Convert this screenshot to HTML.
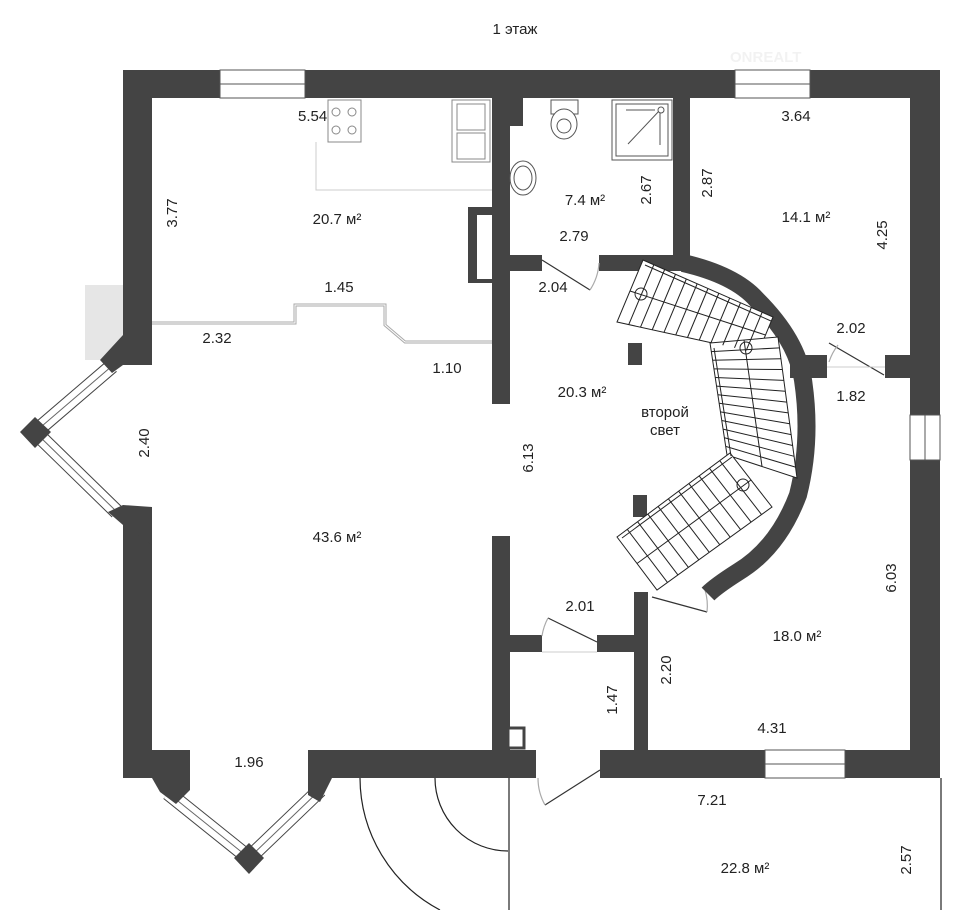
<!DOCTYPE html>
<html><head><meta charset="utf-8"><style>
html,body{margin:0;padding:0;background:#fff}
svg{display:block}
text{font-family:"Liberation Sans",sans-serif;fill:#222;font-size:15px}
</style></head><body>
<svg width="960" height="910" viewBox="0 0 960 910" xmlns="http://www.w3.org/2000/svg">
<text x="515" y="34" text-anchor="middle" font-size="17">1 этаж</text>
<g opacity="0.12"><text x="730" y="62" font-size="40" font-weight="bold" style="fill:#999">ONREALT</text><text x="740" y="82" font-size="12" style="fill:#999">НЕДВИЖИМОСТЬ</text></g>
<rect x="85" y="285" width="38" height="75" fill="#e6e6e6"/>
<!-- bay window frames -->
<g fill="none" stroke-linejoin="miter">
<polyline points="112,366 35,432 117,512" stroke="#444" stroke-width="15"/>
<polyline points="112,366 35,432 117,512" stroke="#fff" stroke-width="13"/>
<polyline points="112,366 35,432 117,512" stroke="#666" stroke-width="1"/>
<polyline points="168,793 249,858 320,790" stroke="#444" stroke-width="15"/>
<polyline points="168,793 249,858 320,790" stroke="#fff" stroke-width="13"/>
<polyline points="168,793 249,858 320,790" stroke="#666" stroke-width="1"/>
</g>
<g fill="#444">
<rect x="123" y="70" width="97" height="28"/><rect x="305" y="70" width="430" height="28"/><rect x="810" y="70" width="130" height="28"/>
<rect x="123" y="70" width="29" height="295"/><rect x="123" y="507" width="29" height="271"/>
<rect x="910" y="70" width="30" height="345"/><rect x="910" y="460" width="30" height="318"/>
<rect x="123" y="750" width="67" height="28"/><rect x="308" y="750" width="228" height="28"/><rect x="600" y="750" width="165" height="28"/><rect x="845" y="750" width="95" height="28"/>
<rect x="492" y="98" width="18" height="306"/><rect x="492" y="536" width="18" height="242"/>
<rect x="508" y="98" width="15" height="28"/>
<rect x="508" y="255" width="34" height="16"/><rect x="599" y="255" width="91" height="16"/><rect x="673" y="98" width="17" height="173"/>
<rect x="790" y="355" width="37" height="23"/><rect x="885" y="355" width="27" height="23"/>
<rect x="508" y="635" width="34" height="17"/><rect x="597" y="635" width="51" height="17"/><rect x="634" y="592" width="14" height="186"/>
<rect x="628" y="343" width="14" height="22"/><rect x="633" y="495" width="14" height="22"/>
<rect x="468" y="207" width="24" height="76"/>
<polygon points="123,335 152,335 152,365 123,365 112,373 100,360"/>
<polygon points="20,432 35,417 51,432 35,448"/>
<polygon points="123,505 152,507 152,545 123,525 108,512"/>
<polygon points="152,778 190,778 190,790 176,804 160,792"/>
<polygon points="308,778 332,778 320,802 308,795"/>
<polygon points="234,858 249,843 264,858 249,874"/>
</g>
<rect x="477" y="215" width="15" height="64" fill="#fff"/>
<rect x="508" y="728" width="16" height="20" fill="#fff" stroke="#444" stroke-width="3"/>
<g fill="#fff" stroke="#555" stroke-width="1">
<rect x="220" y="70" width="85" height="28"/><line x1="220" y1="84" x2="305" y2="84"/>
<rect x="735" y="70" width="75" height="28"/><line x1="735" y1="84" x2="810" y2="84"/>
<rect x="910" y="415" width="30" height="45"/><line x1="925" y1="415" x2="925" y2="460"/>
<rect x="765" y="750" width="80" height="28"/><line x1="765" y1="764" x2="845" y2="764"/>
</g>
<g stroke="#888" stroke-width="1" fill="#fff">
<rect x="328" y="100" width="33" height="42"/><circle cx="336" cy="112" r="4"/><circle cx="352" cy="112" r="4"/><circle cx="336" cy="130" r="4"/><circle cx="352" cy="130" r="4"/>
<rect x="452" y="100" width="38" height="62"/><rect x="457" y="104" width="28" height="26"/><rect x="457" y="133" width="28" height="26"/>
<polyline points="316,142 316,190 492,190" fill="none" stroke="#ccc"/>
</g>
<polyline points="152,323 295,323 295,305 385,305 385,325 405,342 492,342" fill="none" stroke="#aaa" stroke-width="3"/>
<polyline points="152,323 295,323 295,305 385,305 385,325 405,342 492,342" fill="none" stroke="#fff" stroke-width="1"/>
<g stroke="#555" stroke-width="1" fill="#fff">
<rect x="551" y="100" width="27" height="14"/><ellipse cx="564" cy="124" rx="13" ry="15"/><ellipse cx="564" cy="126" rx="7" ry="7"/>
<rect x="612" y="100" width="60" height="60"/><rect x="616" y="104" width="52" height="52"/>
<line x1="628" y1="144" x2="660" y2="110"/><line x1="660" y1="112" x2="660" y2="145"/><line x1="626" y1="110" x2="655" y2="110"/><circle cx="661" cy="110" r="3"/>
<ellipse cx="523" cy="178" rx="13" ry="17"/><ellipse cx="523" cy="178" rx="9" ry="12"/>
</g>
<g stroke="#333" stroke-width="1.2" fill="none">
<line x1="542" y1="260" x2="590" y2="290"/><path d="M599,263 A55,55 0 0 1 590,290" stroke="#aaa"/>
<line x1="829" y1="343" x2="884" y2="375"/><path d="M838,345 A55,55 0 0 0 829,362" stroke="#aaa"/>
<line x1="548" y1="618" x2="597" y2="642"/><path d="M542,636 A55,55 0 0 1 548,618" stroke="#aaa"/>
<line x1="652" y1="597" x2="707" y2="612"/><path d="M705,590 A55,55 0 0 1 707,612" stroke="#aaa"/>
<line x1="545" y1="805" x2="600" y2="770"/><path d="M538,778 A55,55 0 0 0 545,805" stroke="#aaa"/>
</g>
<g stroke="#ccc" stroke-width="1"><line x1="542" y1="652" x2="597" y2="652"/><line x1="827" y1="367" x2="885" y2="367"/></g>
<path d="M683,263 Q735,275 757,300 Q797,340 803,380 Q812,440 798,495 Q778,548 738,572 Q716,586 708,594" fill="none" stroke="#444" stroke-width="18"/>
<g stroke="#222" stroke-width="1" fill="#fff">
<polygon points="643,260 773,317 758,353 617,322"/>
<polygon points="710,343 778,337 797,478 727,455"/>
<polygon points="617,537 730,453 772,507 657,590"/>
</g>
<g stroke="#222" stroke-width="1" fill="none">
<line x1="645" y1="265" x2="771" y2="321"/><line x1="714" y1="348" x2="731" y2="456"/><line x1="622" y1="538" x2="732" y2="457"/>
</g>
<g id="rungs" stroke="#222" stroke-width="1" fill="none"></g>
<g fill="none" stroke="#222"><circle cx="641" cy="294" r="6"/><circle cx="746" cy="348" r="6"/><circle cx="743" cy="485" r="6"/></g>
<g stroke="#222" stroke-width="1.2" fill="none">
<line x1="509" y1="778" x2="509" y2="910"/><line x1="941" y1="778" x2="941" y2="910"/>
<path d="M360,778 A150,150 0 0 0 440,910"/><path d="M435,778 A73,73 0 0 0 508,851"/>
</g>
<text x="298" y="121">5.54</text>
<text x="337" y="224" font-size="17" text-anchor="middle">20.7 м²</text>
<text x="585" y="205" font-size="17" text-anchor="middle">7.4 м²</text>
<text x="574" y="241" text-anchor="middle">2.79</text>
<text x="796" y="121" text-anchor="middle">3.64</text>
<text x="806" y="222" font-size="17" text-anchor="middle">14.1 м²</text>
<text x="339" y="292" text-anchor="middle">1.45</text>
<text x="553" y="292" text-anchor="middle">2.04</text>
<text x="217" y="343" text-anchor="middle">2.32</text>
<text x="851" y="333" text-anchor="middle">2.02</text>
<text x="447" y="373" text-anchor="middle">1.10</text>
<text x="582" y="397" font-size="17" text-anchor="middle">20.3 м²</text>
<text x="851" y="401" text-anchor="middle">1.82</text>
<text x="665" y="417" font-size="16" text-anchor="middle">второй</text>
<text x="665" y="435" font-size="16" text-anchor="middle">свет</text>
<text x="337" y="542" font-size="17" text-anchor="middle">43.6 м²</text>
<text x="580" y="611" text-anchor="middle">2.01</text>
<text x="797" y="641" font-size="17" text-anchor="middle">18.0 м²</text>
<text x="772" y="733" text-anchor="middle">4.31</text>
<text x="249" y="767" text-anchor="middle">1.96</text>
<text x="712" y="805" text-anchor="middle">7.21</text>
<text x="745" y="873" font-size="17" text-anchor="middle">22.8 м²</text>
<text transform="translate(177,213) rotate(-90)" text-anchor="middle">3.77</text>
<text transform="translate(651,190) rotate(-90)" text-anchor="middle">2.67</text>
<text transform="translate(712,183) rotate(-90)" text-anchor="middle">2.87</text>
<text transform="translate(887,235) rotate(-90)" text-anchor="middle">4.25</text>
<text transform="translate(149,443) rotate(-90)" text-anchor="middle">2.40</text>
<text transform="translate(533,458) rotate(-90)" text-anchor="middle">6.13</text>
<text transform="translate(896,578) rotate(-90)" text-anchor="middle">6.03</text>
<text transform="translate(671,670) rotate(-90)" text-anchor="middle">2.20</text>
<text transform="translate(617,700) rotate(-90)" text-anchor="middle">1.47</text>
<text transform="translate(911,860) rotate(-90)" text-anchor="middle">2.57</text>
</svg>
<script>
(function(){
var g=document.getElementById('rungs');
function L(a,b){var l=document.createElementNS('http://www.w3.org/2000/svg','line');l.setAttribute('x1',a[0]);l.setAttribute('y1',a[1]);l.setAttribute('x2',b[0]);l.setAttribute('y2',b[1]);g.appendChild(l);}
function lerp(a,b,t){return[a[0]+(b[0]-a[0])*t,a[1]+(b[1]-a[1])*t];}
function fl(A,B,C,D,n){for(var i=1;i<n;i++){var t=i/n;L(lerp(A,B,t),lerp(D,C,t));}L(lerp(A,D,.5),lerp(B,C,.5));}
fl([643,260],[773,317],[758,353],[617,322],12);
fl([710,343],[727,455],[797,478],[778,337],13);
fl([730,453],[617,537],[657,590],[772,507],11);
})();
</script>
</body></html>
